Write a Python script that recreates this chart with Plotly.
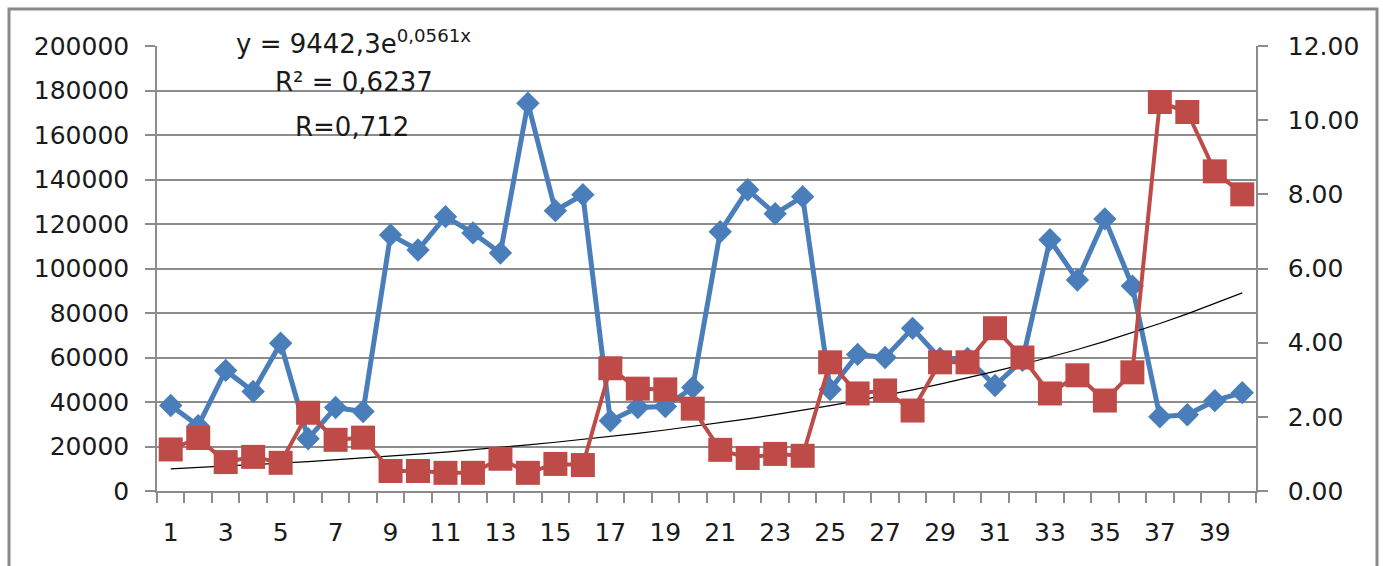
import numpy as np
import plotly.graph_objects as go

periods = list(range(1, 41))
blue_values = [38400, 29300, 54200, 44700, 66400, 23500, 37500, 35700, 115100, 108300,
               123300, 116000, 107000, 174300, 126000, 133200, 31600, 37500, 38000, 46500,
               116500, 135400, 124600, 132300, 45600, 61400, 60000, 73100, 59600, 59600,
               47400, 58700, 112900, 94800, 122300, 92100, 33400, 34300, 40600, 44200]
red_values = [1.12, 1.43, 0.78, 0.92, 0.76, 2.11, 1.38, 1.44, 0.54, 0.54,
              0.49, 0.49, 0.87, 0.49, 0.73, 0.70, 3.31, 2.76, 2.74, 2.22,
              1.11, 0.89, 1.00, 0.95, 3.47, 2.63, 2.71, 2.17, 3.47, 3.47,
              4.39, 3.60, 2.63, 3.12, 2.44, 3.20, 10.49, 10.22, 8.62, 8.00]
x_tick_labels = [str(i) for i in range(1, 40, 2)]
trend_a = 9442.3
trend_b = 0.0561
eq_text = "y = 9442,3e<sup>0,0561x</sup>"
r2_text = "R² = 0,6237"
r_text = "R=0,712"

BLUE = "#4A7EBB"
RED = "#BE4B48"
GRID = "#8c8c8c"
TICK_FONT = dict(family="DejaVu Sans", size=25, color="#1a1a1a")
ANN_FONT = dict(family="DejaVu Sans", size=26, color="#1a1a1a")

px_arr = np.array(periods, dtype=float)
trend_y = trend_a * np.exp(trend_b * px_arr)

fig = go.Figure()
fig.add_trace(go.Scatter(x=periods, y=red_values, yaxis="y2", mode="lines+markers",
                         line=dict(color=RED, width=4),
                         marker=dict(symbol="square", size=24, color=RED, line=dict(width=0)),
                         showlegend=False))
fig.add_trace(go.Scatter(x=periods, y=blue_values, mode="lines+markers",
                         line=dict(color=BLUE, width=5),
                         marker=dict(symbol="diamond", size=18, color=BLUE, line=dict(width=0)),
                         showlegend=False))
fig.add_trace(go.Scatter(x=periods, y=trend_y, mode="lines",
                         line=dict(color="black", width=1.2), showlegend=False))

L, R, T, B = 157, 127, 46, 75
W, H = 1383, 566
pw, ph = W - L - R, H - T - B

def px2paper_x(x):
    return (x - L) / pw

def px2paper_y(y):
    return (H - B - y) / ph

fig.update_layout(
    width=W, height=H,
    margin=dict(l=L, r=R, t=T, b=B, pad=0),
    paper_bgcolor="white", plot_bgcolor="white",
    font=TICK_FONT,
    xaxis=dict(range=[0.5, 40.5], tickmode="array", tickvals=list(range(1, 40, 2)),
               ticktext=x_tick_labels, ticks="", showgrid=False, zeroline=False,
               showline=True, linecolor=GRID, linewidth=1.5, ticklabelstandoff=18,
               minor=dict(tickmode="linear", tick0=0.5, dtick=1, ticks="outside",
                          ticklen=10, tickcolor=GRID, tickwidth=1.5, showgrid=False)),
    yaxis=dict(range=[0, 200000], dtick=20000, tickformat="d", showgrid=True,
               gridcolor=GRID, gridwidth=1.5, zeroline=False, showline=True,
               linecolor=GRID, linewidth=1.5, ticks="outside", ticklen=10,
               tickcolor=GRID, tickwidth=1.5, ticklabelstandoff=11),
    yaxis2=dict(range=[0, 12], dtick=2, tickformat=".2f", overlaying="y", side="right",
                showgrid=False, zeroline=False, showline=True, linecolor=GRID,
                linewidth=1.5, ticks="outside", ticklen=10, tickcolor=GRID,
                tickwidth=1.5, ticklabelstandoff=15),
    shapes=[dict(type="rect", xref="paper", yref="paper",
                 x0=px2paper_x(9), x1=px2paper_x(1377), y0=px2paper_y(600), y1=px2paper_y(9),
                 line=dict(color="#8a8a8a", width=3), fillcolor="rgba(0,0,0,0)")],
    annotations=[
        dict(text=eq_text, x=px2paper_x(353), y=px2paper_y(42), xref="paper", yref="paper",
             showarrow=False, xanchor="center", yanchor="middle", font=ANN_FONT),
        dict(text=r2_text, x=px2paper_x(354), y=px2paper_y(82), xref="paper", yref="paper",
             showarrow=False, xanchor="center", yanchor="middle", font=ANN_FONT),
        dict(text=r_text, x=px2paper_x(352), y=px2paper_y(127), xref="paper", yref="paper",
             showarrow=False, xanchor="center", yanchor="middle", font=ANN_FONT),
    ],
)

fig.write_html("out.html", config={"displayModeBar": False},
               post_script="document.body.style.margin='0';")
